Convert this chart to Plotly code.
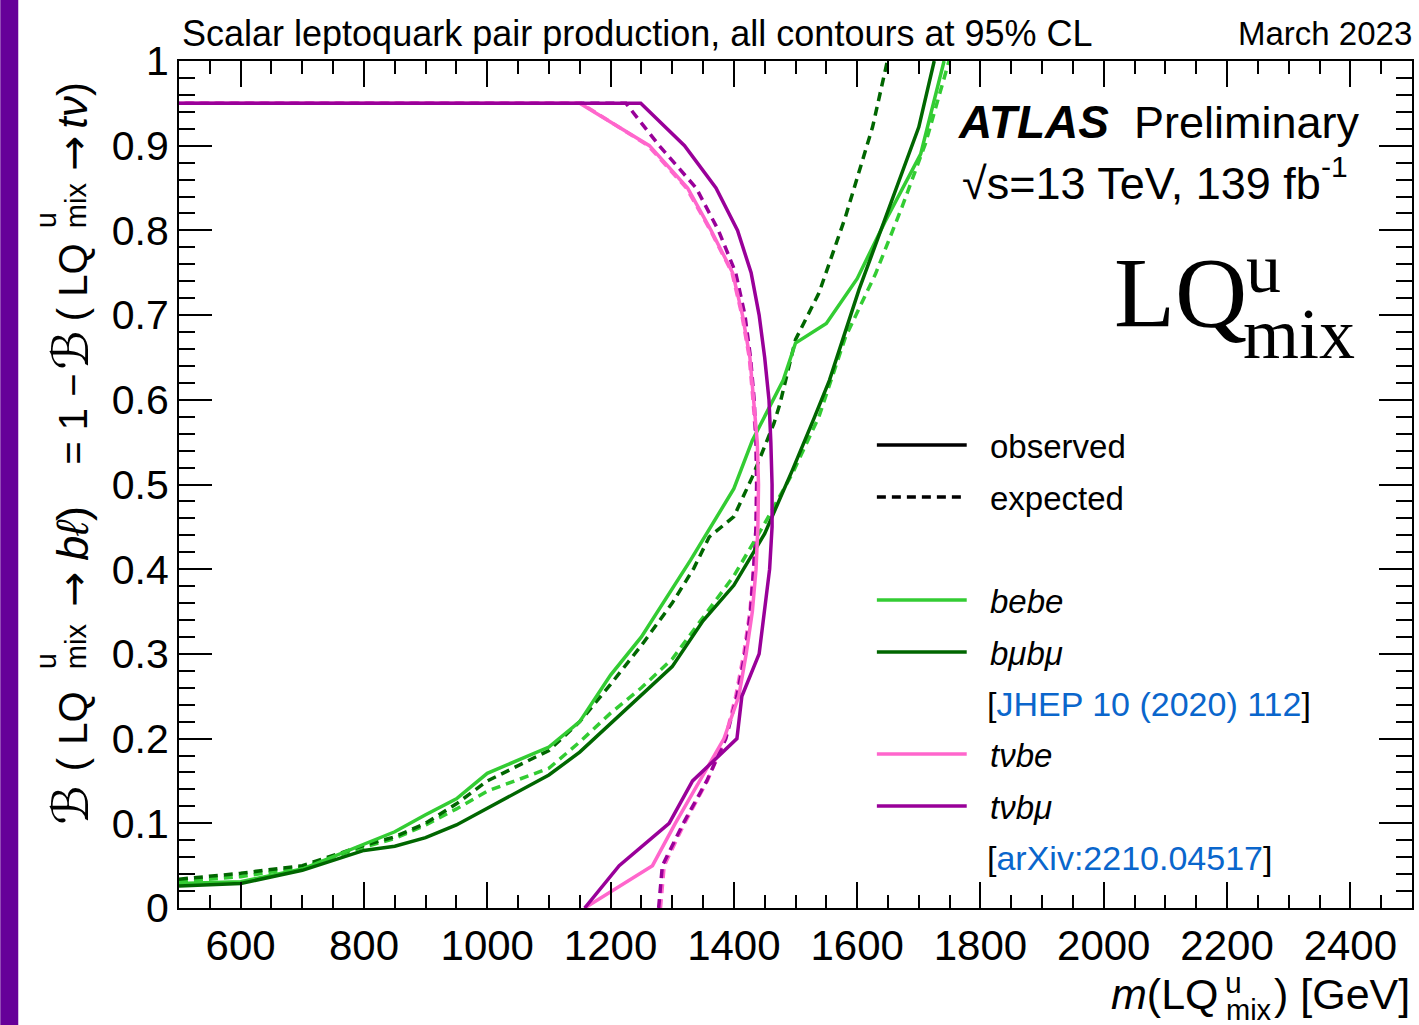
import plotly.graph_objects as go

# ---------------- data ----------------
bebe_obs_m = [500, 600, 700, 800, 850, 900, 950, 1000, 1100, 1150, 1200, 1250, 1330, 1400, 1430, 1480, 1500, 1550, 1600, 1645, 1703, 1741]
bebe_obs_B = [0.029, 0.031, 0.046, 0.076, 0.090, 0.110, 0.129, 0.159, 0.190, 0.220, 0.275, 0.320, 0.411, 0.495, 0.552, 0.623, 0.667, 0.690, 0.743, 0.810, 0.890, 1.0]

bebe_exp_m = [500, 600, 700, 800, 850, 900, 950, 1000, 1100, 1150, 1200, 1250, 1300, 1335, 1400, 1450, 1495, 1538, 1581, 1630, 1673, 1711, 1749]
bebe_exp_B = [0.031, 0.037, 0.048, 0.072, 0.082, 0.098, 0.117, 0.138, 0.165, 0.196, 0.230, 0.260, 0.294, 0.328, 0.392, 0.454, 0.513, 0.580, 0.674, 0.749, 0.828, 0.903, 1.0]

bmubmu_obs_m = [500, 600, 700, 800, 850, 900, 950, 1000, 1100, 1150, 1200, 1250, 1300, 1350, 1400, 1450, 1495, 1530, 1555, 1603, 1652, 1700, 1725]
bmubmu_obs_B = [0.026, 0.029, 0.0445, 0.068, 0.073, 0.083, 0.098, 0.118, 0.157, 0.184, 0.218, 0.251, 0.285, 0.339, 0.381, 0.442, 0.517, 0.578, 0.623, 0.730, 0.828, 0.922, 1.0]

bmubmu_exp_m = [500, 600, 700, 800, 850, 900, 950, 1000, 1100, 1150, 1200, 1250, 1300, 1335, 1360, 1400, 1430, 1465, 1475, 1500, 1538, 1581, 1625, 1649]
bmubmu_exp_B = [0.034, 0.041, 0.050, 0.074, 0.084, 0.100, 0.123, 0.150, 0.186, 0.220, 0.264, 0.310, 0.360, 0.401, 0.438, 0.462, 0.509, 0.572, 0.596, 0.671, 0.726, 0.816, 0.922, 1.0]

tvbe_obs_m = [1158, 1268, 1305, 1345, 1384, 1408, 1420, 1430, 1436, 1439, 1440, 1438, 1432, 1426, 1414, 1398, 1363, 1325, 1263, 1150, 500]
tvbe_obs_B = [0.0, 0.05, 0.10, 0.15, 0.20, 0.25, 0.30, 0.35, 0.40, 0.45, 0.50, 0.55, 0.60, 0.65, 0.70, 0.75, 0.80, 0.85, 0.90, 0.95, 0.95]

tvbe_exp_m = [1281, 1287, 1320, 1357, 1386, 1403, 1416, 1426, 1432, 1436, 1437, 1436, 1431, 1425, 1413, 1397, 1362, 1323, 1261, 1152, 500]
tvbe_exp_B = [0.0, 0.05, 0.10, 0.15, 0.20, 0.25, 0.30, 0.35, 0.40, 0.45, 0.50, 0.55, 0.60, 0.65, 0.70, 0.75, 0.80, 0.85, 0.90, 0.95, 0.95]

tvbmu_obs_m = [1158, 1214, 1295, 1333, 1405, 1413, 1441, 1450, 1458, 1462, 1462, 1460, 1457, 1450, 1441, 1428, 1406, 1371, 1320, 1249, 500]
tvbmu_obs_B = [0.0, 0.05, 0.10, 0.15, 0.20, 0.25, 0.30, 0.35, 0.40, 0.45, 0.50, 0.55, 0.60, 0.65, 0.70, 0.75, 0.80, 0.85, 0.90, 0.95, 0.95]

tvbmu_exp_m = [1278, 1284, 1318, 1356, 1387, 1405, 1418, 1427, 1432, 1436, 1437, 1436, 1433, 1427, 1418, 1403, 1375, 1339, 1279, 1225, 500]
tvbmu_exp_B = [0.0, 0.05, 0.10, 0.15, 0.20, 0.25, 0.30, 0.35, 0.40, 0.45, 0.50, 0.55, 0.60, 0.65, 0.70, 0.75, 0.80, 0.85, 0.90, 0.95, 0.95]

legend_labels = ["observed", "expected", "<i>bebe</i>", "<i>bμbμ</i>", "<i>tνbe</i>", "<i>tνbμ</i>"]
ref_labels = ["JHEP 10 (2020) 112", "arXiv:2210.04517"]

# ---------------- styles ----------------
C_BEBE = "#33cc33"
C_BMU = "#006600"
C_TVBE = "#ff66cc"
C_TVBMU = "#990099"
DASH = "9px,6px"
LW = 3.5
FONT = "Liberation Sans, Arial, Helvetica, DejaVu Sans, sans-serif"
SERIF = "Liberation Serif, Times New Roman, serif"
SYM = "DejaVu Sans, sans-serif"

W, H = 1419, 1025
L, R, T, B = 179, 1414, 61, 908


def px(x):
    return (x - L) / (R - L)


def py(y):
    return (B - y) / (B - T)


fig = go.Figure()
series = [
    (tvbe_exp_m, tvbe_exp_B, C_TVBE, DASH),
    (tvbmu_exp_m, tvbmu_exp_B, C_TVBMU, DASH),
    (bebe_exp_m, bebe_exp_B, C_BEBE, DASH),
    (bmubmu_exp_m, bmubmu_exp_B, C_BMU, DASH),
    (bebe_obs_m, bebe_obs_B, C_BEBE, "solid"),
    (bmubmu_obs_m, bmubmu_obs_B, C_BMU, "solid"),
    (tvbe_obs_m, tvbe_obs_B, C_TVBE, "solid"),
    (tvbmu_obs_m, tvbmu_obs_B, C_TVBMU, "solid"),
]
for m, b, c, d in series:
    fig.add_trace(go.Scatter(x=m, y=b, mode="lines", showlegend=False,
                             line=dict(color=c, width=LW, dash=d), hoverinfo="skip"))

axis_common = dict(showgrid=False, zeroline=False, showline=True, linecolor="black", linewidth=2,
                   mirror="allticks", ticks="inside", tickcolor="black", tickwidth=1.5)
fig.update_xaxes(range=[500, 2500], tick0=0, dtick=200, ticklen=26,
                 tickfont=dict(family=FONT, size=42, color="black"),
                 minor=dict(dtick=50, ticklen=13, ticks="inside", tickcolor="black", tickwidth=1.5),
                 **axis_common)
fig.update_yaxes(range=[0, 1], tick0=0, dtick=0.1, ticklen=33,
                 tickfont=dict(family=FONT, size=41, color="black"),
                 minor=dict(dtick=0.02, ticklen=16, ticks="inside", tickcolor="black", tickwidth=1.5),
                 **axis_common)

ann = []


def text(x, y, s, size, xanchor="left", family=FONT, color="black"):
    ann.append(dict(xref="paper", yref="paper", x=px(x), y=py(y), text=s, showarrow=False,
                    xanchor=xanchor, yanchor="middle",
                    font=dict(family=family, size=size, color=color)))


def vtext(x, y_start, s, size, family=FONT):
    # vertical text reading bottom-to-top, starting at pixel y_start
    ann.append(dict(xref="paper", yref="paper", x=px(x), y=py(y_start), text=s, showarrow=False,
                    xanchor="center", yanchor="bottom", textangle=-90, borderpad=0,
                    font=dict(family=family, size=size, color="black")))


# header texts
text(180, 33, "Scalar leptoquark pair production, all contours at 95% CL", 36)
text(1416, 33, "March 2023", 33, xanchor="right")

# ATLAS label
text(957, 122, "<b><i>ATLAS</i></b>", 46)
text(1134, 122, "Preliminary", 45)
text(961, 183, "√s=13 TeV, 139 fb", 45)
text(1321, 166, "-1", 30)

# big LQ label
text(1114, 292, "LQ", 100, family=SERIF)
text(1246, 268, "u", 70, family=SERIF)
text(1243, 334, "mix", 72, family=SERIF)

# x-axis title
text(1223, 994, "<i>m</i>(LQ", 43, xanchor="right")
text(1225, 982, "u", 30)
text(1226, 1010, "mix", 29)
text(1274, 994, ") [GeV]", 43)

# y-axis title (pieces, stacked super/subscripts)
YS = 40
vtext(70, 826, "ℬ", 50, family=SYM)
vtext(72, 772, "(", YS)
vtext(72, 746, "LQ", YS)
vtext(46, 670, "u", 29)
vtext(76, 670, "mix", 29)
vtext(73, 608, "→", 42, family=SYM)
vtext(72, 562, "<i>bℓ</i>)", 45)
vtext(72, 466, "= 1 −", YS)
vtext(70, 371, "ℬ", 50, family=SYM)
vtext(72, 322, "(", YS)
vtext(72, 298, "LQ", YS)
vtext(46, 229, "u", 29)
vtext(76, 229, "mix", 29)
vtext(73, 172, "→", 42, family=SYM)
vtext(72, 130, "<i>tν</i>)", 42)

# legend
leg_rows = [(445, "black", "solid", legend_labels[0]),
            (497, "black", DASH, legend_labels[1]),
            (600, C_BEBE, "solid", legend_labels[2]),
            (652, C_BMU, "solid", legend_labels[3]),
            (754, C_TVBE, "solid", legend_labels[4]),
            (806, C_TVBMU, "solid", legend_labels[5])]
shapes = []
for y, c, d, lab in leg_rows:
    shapes.append(dict(type="line", xref="paper", yref="paper", x0=px(878), x1=px(968), y0=py(y), y1=py(y),
                       line=dict(color=c, width=LW, dash=d)))
    text(989, y + 1, lab, 33)
BLUE = "#0a66cc"
text(986, 704, "[<span style='color:%s'>%s</span>]" % (BLUE, ref_labels[0]), 34)
text(986, 858, "[<span style='color:%s'>%s</span>]" % (BLUE, ref_labels[1]), 34)

# purple side bar
shapes.append(dict(type="rect", xref="paper", yref="paper", x0=px(0), x1=px(18), y0=py(H), y1=py(0),
                   fillcolor="#660099", line=dict(width=0), layer="above"))

fig.update_layout(width=W, height=H, margin=dict(l=L, r=W - R, t=T, b=H - B),
                  paper_bgcolor="white", plot_bgcolor="white", showlegend=False,
                  annotations=ann, shapes=shapes, font=dict(family=FONT, color="black"))

fig.write_html("out.html")
